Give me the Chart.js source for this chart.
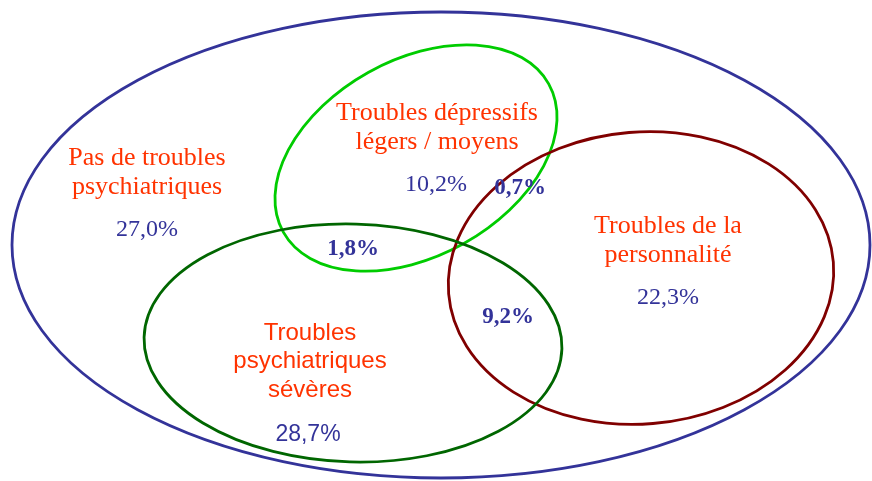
<!DOCTYPE html>
<html>
<head>
<meta charset="utf-8">
<script src="https://cdn.jsdelivr.net/npm/chart.js@4/dist/chart.umd.min.js"></script>
<style>
html,body{margin:0;padding:0;background:#fff;}
#wrap{width:872px;height:481px;}
</style>
</head>
<body>
<div id="wrap"><canvas id="c" width="872" height="481"></canvas></div>
<script>
// ---- data ----
const setNames = ['Pas de troubles psychiatriques', 'Troubles dépressifs légers / moyens', 'Troubles de la personnalité', 'Troubles psychiatriques sévères'];
const setLabelLines = [['Pas de troubles', 'psychiatriques'], ['Troubles dépressifs', 'légers / moyens'], ['Troubles de la', 'personnalité'], ['Troubles', 'psychiatriques', 'sévères']];
const regionLabels = ['27,0%', '10,2%', '0,7%', '1,8%', '22,3%', '9,2%', '28,7%'];
const regionValues = [27.0, 10.2, 0.7, 1.8, 22.3, 9.2, 28.7];

// ---- layout (chart units = pixels of the reference) ----
const ellipseGeom = [
  {cx: 441, cy: 245, rx: 429, ry: 233, rot: 0,     color: '#333399'},
  {cx: 416, cy: 158, rx: 152, ry: 98,  rot: -29.2, color: '#00cc00'},
  {cx: 641, cy: 278, rx: 193, ry: 146, rot: -4.7,  color: '#800000'},
  {cx: 353, cy: 343, rx: 209, ry: 119, rot: 1.6,   color: '#006600'}
];
const setLabelPos = [
  {x: 147, y: 158, lh: 29, font: '26px "Liberation Serif"'},
  {x: 437, y: 113, lh: 29, font: '26px "Liberation Serif"'},
  {x: 668, y: 226, lh: 29, font: '26px "Liberation Serif"'},
  {x: 310, y: 333, lh: 28.5, font: '24px "Liberation Sans"'}
];
const regionPos = [
  {x: 147, y: 230, font: '24px "Liberation Serif"'},
  {x: 436, y: 185, font: '24px "Liberation Serif"'},
  {x: 520, y: 188, font: 'bold 23px "Liberation Serif"'},
  {x: 353, y: 249, font: 'bold 23px "Liberation Serif"'},
  {x: 668, y: 298, font: '24px "Liberation Serif"'},
  {x: 508, y: 317, font: 'bold 23px "Liberation Serif"'},
  {x: 308, y: 435, font: '23px "Liberation Sans"'}
];

const vennPlugin = {
  id: 'venn',
  afterDatasetsDraw(chart) {
    const ctx = chart.ctx, xs = chart.scales.x, ys = chart.scales.y;
    const sx = v => xs.getPixelForValue(v), sy = v => ys.getPixelForValue(v);
    ctx.save();
    ellipseGeom.forEach(e => {
      const cx = sx(e.cx), cy = sy(e.cy);
      const rx = Math.abs(sx(e.cx + e.rx) - cx), ry = Math.abs(sy(e.cy + e.ry) - cy);
      ctx.beginPath();
      ctx.ellipse(cx, cy, rx, ry, e.rot * Math.PI / 180, 0, Math.PI * 2);
      ctx.lineWidth = 2.8;
      ctx.strokeStyle = e.color;
      ctx.stroke();
    });
    ctx.textAlign = 'center';
    ctx.textBaseline = 'middle';
    setLabelLines.forEach((lines, i) => {
      const p = setLabelPos[i];
      ctx.font = p.font;
      ctx.fillStyle = '#ff3300';
      lines.forEach((t, k) => ctx.fillText(t, sx(p.x), sy(p.y + k * p.lh)));
    });
    regionLabels.forEach((t, i) => {
      const p = regionPos[i];
      ctx.font = p.font;
      ctx.fillStyle = '#333399';
      ctx.fillText(t, sx(p.x), sy(p.y));
    });
    ctx.restore();
  }
};

new Chart(document.getElementById('c'), {
  type: 'scatter',
  data: {
    datasets: [{
      label: 'Régions',
      data: regionPos.map((p, i) => ({x: p.x, y: p.y, v: regionValues[i]})),
      pointRadius: 0,
      showLine: false
    }]
  },
  options: {
    responsive: false,
    animation: false,
    layout: {padding: 0},
    plugins: {legend: {display: false}, tooltip: {enabled: false}},
    scales: {
      x: {type: 'linear', min: 0, max: 872, display: false},
      y: {type: 'linear', min: 0, max: 481, reverse: true, display: false}
    }
  },
  plugins: [vennPlugin]
});
</script>
</body>
</html>
